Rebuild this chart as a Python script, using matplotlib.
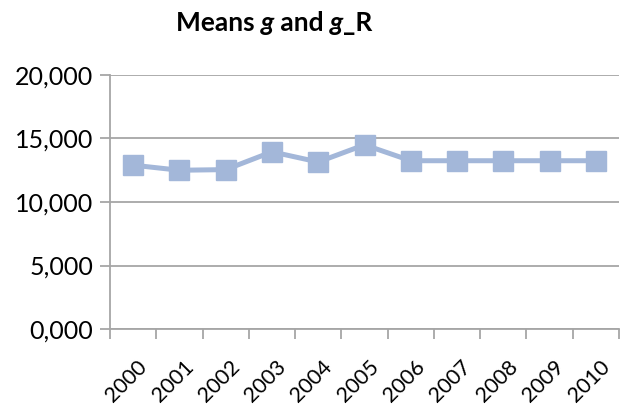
import numpy as np
import matplotlib
matplotlib.use("Agg")
import matplotlib.pyplot as plt
from matplotlib.ticker import FuncFormatter
from matplotlib.transforms import ScaledTranslation

# datos
years = ["2000", "2001", "2002", "2003", "2004", "2005",
         "2006", "2007", "2008", "2009", "2010"]
means_g = [12.9, 12.5, 12.55, 13.95, 13.15, 14.5,
           13.25, 13.25, 13.25, 13.25, 13.25]
y_ticks = [0, 5, 10, 15, 20]

line_color = "#A3B7D9"
grid_color = "#A6A6A6"

plt.rcParams["font.family"] = ["Lato", "DejaVu Sans"]

fig = plt.figure(figsize=(6.2, 4.13), dpi=100)
ax = fig.add_axes([110 / 620, 84 / 413, 509 / 620, 254 / 413])

x = np.arange(len(years))
ax.plot(x, means_g, color=line_color, linewidth=3.6, marker="s",
        markersize=15, markeredgecolor=line_color, solid_joinstyle="miter",
        clip_on=False, zorder=3)

ax.set_xlim(-0.5, len(years) - 0.5)
ax.set_ylim(0, 20)
ax.set_yticks(y_ticks)
ax.yaxis.set_major_formatter(FuncFormatter(lambda v, p: f"{int(v)},000"))
ax.grid(axis="y", color=grid_color, linewidth=1.3)
ax.set_axisbelow(True)

# ticks en los limites de categoria, etiquetas en el centro
ax.set_xticks(x)
ax.set_xticklabels(years, rotation=45, ha="right", rotation_mode="anchor")
ax.set_xticks(np.arange(-0.5, len(years)), minor=True)
ax.tick_params(axis="x", which="major", length=0, pad=20, labelsize=15.5)
ax.tick_params(axis="x", which="minor", length=7, width=1.3, color=grid_color)
ax.tick_params(axis="y", length=7, width=1.3, color=grid_color, labelsize=18, pad=5)
shift = ScaledTranslation(4 / 100, 0, fig.dpi_scale_trans)
for lab in ax.get_xticklabels():
    lab.set_transform(lab.get_transform() + shift)

for side in ["top", "right"]:
    ax.spines[side].set_visible(False)
for side in ["left", "bottom"]:
    ax.spines[side].set_color(grid_color)
    ax.spines[side].set_linewidth(1.3)

# titulo con partes en cursiva
fig.canvas.draw()
renderer = fig.canvas.get_renderer()
parts = [("Means ", "normal"), ("g", "italic"), (" and ", "normal"),
         ("g", "italic"), ("_R", "normal")]
texts = []
xpos = 0
for s, st in parts:
    t = fig.text(xpos, 1 - 23 / 413, s, fontsize=19, fontweight="bold",
                 style=st, va="center", ha="left")
    fig.canvas.draw()
    w = t.get_window_extent(renderer).width
    texts.append((t, w))
    xpos += w / 620
total = xpos
start = 274 / 620 - total / 2
cur = start
for t, w in texts:
    t.set_x(cur)
    cur += w / 620

fig.savefig("out.png", dpi=100)
